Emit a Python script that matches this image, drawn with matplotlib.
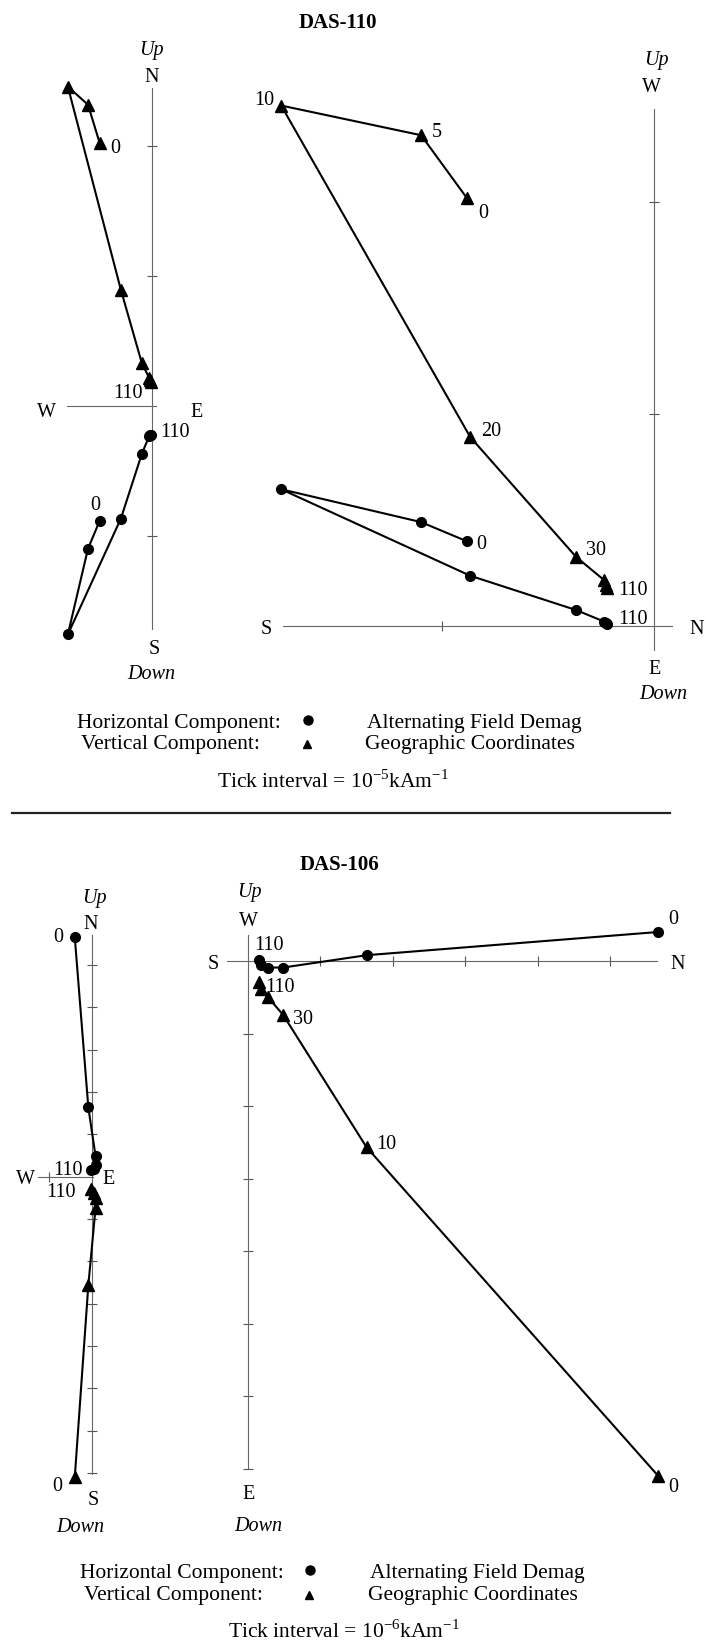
import matplotlib
matplotlib.use('Agg')
import matplotlib.pyplot as plt

plt.rcParams['font.family'] = ['Liberation Serif', 'DejaVu Serif']
plt.rcParams['mathtext.fontset'] = 'custom'
plt.rcParams['mathtext.rm'] = 'Liberation Serif'

# AF demag steps, components in tick units
# DAS-110 (1 tick = 1e-5 kA/m)
das110_steps = [0, 5, 10, 20, 30, 50, 80, 110]
das110_n = [-0.885, -1.10, -1.76, -0.868, -0.368, -0.235, -0.228, -0.222]
das110_e = [-0.40, -0.49, -0.645, -0.237, -0.075, -0.02, -0.012, -0.008]
das110_up = [2.02, 2.315, 2.455, 0.891, 0.325, 0.215, 0.195, 0.18]

# DAS-106 (1 tick = 1e-6 kA/m)
das106_steps = [0, 10, 30, 50, 80, 110]
das106_n = [5.66, 1.64, 0.49, 0.28, 0.19, 0.15]
das106_e = [-0.40, -0.08, 0.09, 0.09, 0.05, -0.01]
das106_up = [-7.10, -2.57, -0.745, -0.50, -0.38, -0.29]

W, H = 705, 1644
PT = 0.72  # points per pixel at dpi 100
AXC = '#666666'
LFS = 14.5
GFS = 15.5

fig = plt.figure(figsize=(W / 100, H / 100), dpi=100)


def zaxes(ox, oy, s, xlim, ylim, hb, vb, xt, yt):
    x0 = ox + xlim[0] * s
    x1 = ox + xlim[1] * s
    yt_px = oy - ylim[1] * s
    yb_px = oy - ylim[0] * s
    ax = fig.add_axes([x0 / W, 1 - yb_px / H, (x1 - x0) / W, (yb_px - yt_px) / H])
    ax.set_xlim(xlim)
    ax.set_ylim(ylim)
    ax.set_facecolor('none')
    for k in ['top', 'right']:
        ax.spines[k].set_visible(False)
    for k in ['left', 'bottom']:
        ax.spines[k].set_position(('data', 0))
        ax.spines[k].set_color(AXC)
        ax.spines[k].set_linewidth(0.8)
    ax.spines['bottom'].set_bounds(hb[0], hb[1])
    ax.spines['left'].set_bounds(vb[0], vb[1])
    ax.set_xticks(xt)
    ax.set_yticks(yt)
    ax.tick_params(direction='inout', length=7, width=0.8, color='#555555',
                   labelleft=False, labelbottom=False)
    return ax


def draw(ax, x, y, marker, ms):
    ax.plot(x, y, color='k', lw=1.5, marker=marker, ms=ms, mfc='k', mec='k',
            clip_on=False, zorder=3)


def lab(ax, x, y, txt, dx, dy, style='normal'):
    ax.annotate(txt, (x, y), xytext=(dx * PT, dy * PT), textcoords='offset points',
                ha='center', va='center_baseline', fontsize=LFS, style=style,
                annotation_clip=False)


def axis_labels(ax, hb, vb, labs):
    ends = {'top': (0, vb[1]), 'bottom': (0, vb[0]), 'left': (hb[0], 0), 'right': (hb[1], 0)}
    for txt, end, dx, dy in labs:
        st = 'italic' if txt in ('Up', 'Down') else 'normal'
        x, y = ends[end]
        lab(ax, x, y, txt, dx, dy, st)


# ---------- DAS-110 left: E horizontal, N / Up vertical ----------
hb, vb = (-0.65, 0.03), (-1.72, 2.44)
ax1 = zaxes(151.7, 405.7, 130, (-0.8, 0.45), (-1.9, 2.7), hb, vb, [], [-1, 1, 2])
draw(ax1, das110_e, das110_up, '^', 8.5)
draw(ax1, das110_e, das110_n, 'o', 7)
axis_labels(ax1, hb, vb, [('Up', 'top', 0, 41), ('N', 'top', 0, 13),
                          ('S', 'bottom', 3, -18), ('Down', 'bottom', 0, -43),
                          ('W', 'left', -21, -4), ('E', 'right', 41, -4)])
lab(ax1, das110_e[0], das110_up[0], '0', 16, -3)
lab(ax1, das110_e[-1], das110_up[-1], '110', -23, -9)
lab(ax1, das110_e[0], das110_n[0], '0', -4, 18)
lab(ax1, das110_e[-1], das110_n[-1], '110', 24, 5)

# ---------- DAS-110 right: N horizontal, W / Up vertical ----------
das110_w = [-v for v in das110_e]
hb, vb = (-1.75, 0.082), (-0.113, 2.437)
ax2 = zaxes(654.3, 626, 212, (-1.95, 0.3), (-0.35, 2.75), hb, vb, [-1], [1, 2])
draw(ax2, das110_n, das110_up, '^', 8.5)
draw(ax2, das110_n, das110_w, 'o', 7)
axis_labels(ax2, hb, vb, [('Up', 'top', 2, 51), ('W', 'top', -3, 24),
                          ('S', 'left', -17, -1), ('N', 'right', 25, -1),
                          ('E', 'bottom', 0, -17), ('Down', 'bottom', 9, -42)])
tri_offsets = {0: (17, -13), 5: (16, 5), 10: (-17, 8), 20: (21, 8), 30: (20, 9), 110: (26, 0)}
for i, st in enumerate(das110_steps):
    if st in tri_offsets:
        dx, dy = tri_offsets[st]
        lab(ax2, das110_n[i], das110_up[i], str(st), dx, dy)
lab(ax2, das110_n[0], das110_w[0], '0', 15, -1)
lab(ax2, das110_n[-1], das110_w[-1], '110', 26, 7)

# ---------- DAS-106 left ----------
hb, vb = (-1.26, 0.02), (-7.03, 5.71)
ax3 = zaxes(91.7, 1176.7, 42.3, (-1.6, 0.6), (-7.6, 6.3), hb, vb, [-1],
            [-7, -6, -5, -4, -3, -2, -1, 1, 2, 3, 4, 5])
draw(ax3, das106_e, das106_up, '^', 8.5)
draw(ax3, das106_e, das106_n, 'o', 7)
axis_labels(ax3, hb, vb, [('Up', 'top', 3, 39), ('N', 'top', -1, 13),
                          ('S', 'bottom', 2, -24), ('Down', 'bottom', -11, -51),
                          ('W', 'left', -13, 0), ('E', 'right', 16, 0)])
lab(ax3, das106_e[0], das106_n[0], '0', -17, 2)
lab(ax3, das106_e[-1], das106_n[-1], '110', -23, 2)
lab(ax3, das106_e[-1], das106_up[-1], '110', -30, -1)
lab(ax3, das106_e[0], das106_up[0], '0', -18, -7)

# ---------- DAS-106 right ----------
das106_w = [-v for v in das106_e]
hb, vb = (-0.29, 5.64), (-7.01, 0.36)
ax4 = zaxes(247.7, 961, 72.5, (-0.7, 6.1), (-7.5, 0.9), hb, vb, [1, 2, 3, 4, 5],
            [-7, -6, -5, -4, -3, -2, -1])
draw(ax4, das106_n, das106_up, '^', 8.5)
draw(ax4, das106_n, das106_w, 'o', 7)
axis_labels(ax4, hb, vb, [('Up', 'top', 2, 45), ('W', 'top', 1, 16),
                          ('S', 'left', -13, -1), ('N', 'right', 21, -1),
                          ('E', 'bottom', 1, -23), ('Down', 'bottom', 11, -55)])
tri_offsets = {0: (15, -9), 10: (20, 5), 30: (20, -2), 110: (21, -3)}
for i, st in enumerate(das106_steps):
    if st in tri_offsets:
        dx, dy = tri_offsets[st]
        lab(ax4, das106_n[i], das106_up[i], str(st), dx, dy)
lab(ax4, das106_n[0], das106_w[0], '0', 15, 15)
lab(ax4, das106_n[-1], das106_w[-1], '110', 10, 17)

# ---------- titles, legends, separator (pixel overlay) ----------
ov = fig.add_axes([0, 0, 1, 1])
ov.set_xlim(0, W)
ov.set_ylim(H, 0)
ov.axis('off')

ov.text(338, 20, 'DAS-110', ha='center', va='center_baseline', fontsize=15, weight='bold')
ov.text(339, 862, 'DAS-106', ha='center', va='center_baseline', fontsize=15, weight='bold')


def legend(y1, y2, xl, xm, xr, exp, ytick, xtick):
    ov.text(xl, y1, 'Horizontal Component:', ha='left', va='baseline', fontsize=GFS)
    ov.text(xl + 4, y2, 'Vertical Component:', ha='left', va='baseline', fontsize=GFS)
    ov.plot([xm], [y1 - 8], 'o', color='k', ms=6.5)
    ov.plot([xm - 1], [y2 - 5], '^', color='k', ms=6)
    ov.text(xr, y1, 'Alternating Field Demag', ha='left', va='baseline', fontsize=GFS)
    ov.text(xr - 2, y2, 'Geographic Coordinates', ha='left', va='baseline', fontsize=GFS)
    ov.text(xtick, ytick, 'Tick interval = 10$^{\\mathregular{-%d}}$kAm$^{\\mathregular{-1}}$' % exp,
            ha='center', va='baseline', fontsize=GFS)


legend(728, 749, 77, 308, 367, 5, 788, 333)
legend(1578, 1600, 80, 310, 370, 6, 1638, 344)
ov.plot([11.7, 670], [813.3, 813.3], color='#222222', lw=1.6)

fig.savefig('out.png', dpi=100)
